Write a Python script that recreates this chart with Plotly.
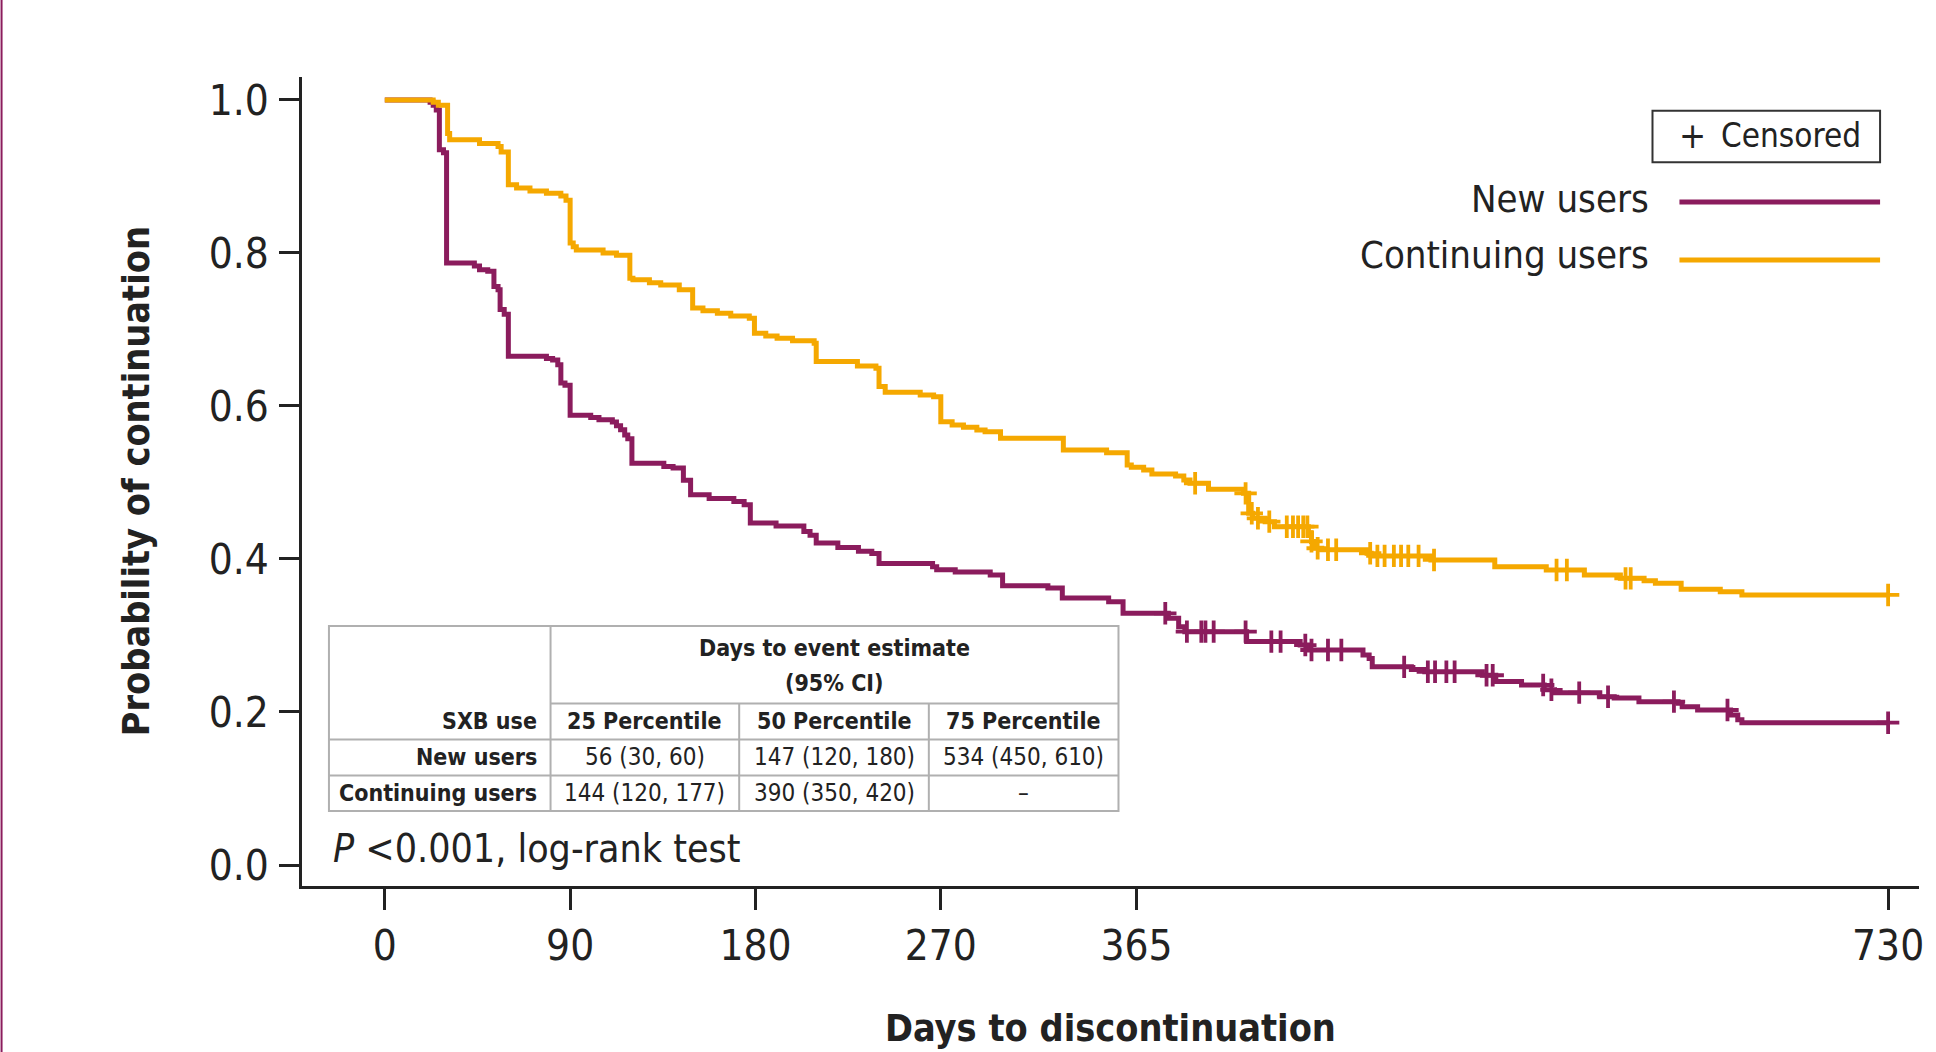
import numpy as np
import plotly.graph_objects as go

# ---------------- data ----------------
new_times = [0, 22, 23.5, 25, 26.5, 28.5, 30, 43.5, 46, 50,
             53, 55, 56, 58, 60, 78.5, 81.5, 84, 85.5, 87.5,
             90, 100, 104, 110.5, 112.5, 114.5, 116.5, 118, 120, 135.5,
             140, 145, 148.5, 157.5, 169.5, 174.5, 177.5, 190, 203.5, 206.5,
             209.5, 220, 230, 236.5, 240, 266, 268, 277, 294, 300,
             322, 329, 351.5, 358.5, 380.5, 385.5, 388.5, 418.5, 444.5, 448.5,
             475, 478, 479.5, 498.5, 505, 533, 539.5, 552, 563, 568,
             590, 597, 609, 628, 630, 637.5, 653.5, 657, 659, 730]
new_surv = [1.0, 0.997, 0.993, 0.987, 0.935, 0.931, 0.787, 0.783, 0.778, 0.776,
            0.756, 0.752, 0.726, 0.720, 0.665, 0.662, 0.660, 0.654, 0.630, 0.627,
            0.588, 0.585, 0.582, 0.579, 0.574, 0.569, 0.562, 0.557, 0.525, 0.521,
            0.519, 0.503, 0.484, 0.479, 0.475, 0.471, 0.447, 0.443, 0.436, 0.431,
            0.421, 0.415, 0.410, 0.407, 0.394, 0.390, 0.386, 0.383, 0.379, 0.365,
            0.362, 0.349, 0.344, 0.329, 0.3225, 0.3115, 0.305, 0.292, 0.2875, 0.281,
            0.2745, 0.270, 0.259, 0.2555, 0.2525, 0.248, 0.240, 0.2353, 0.229, 0.2253,
            0.220, 0.2183, 0.2135, 0.2113, 0.207, 0.2026, 0.196, 0.190, 0.186, 0.186]
new_censored = [379, 389.5, 396.5, 398.5, 402.5, 418, 430.5, 435, 447, 450,
                458, 464.5, 495, 506.5, 510, 515.5, 519.5, 535, 538, 562.5,
                566.5, 580, 594, 626, 652, 730]

cont_times = [0, 23.5, 26, 30.5, 31.5, 46, 55, 56.5, 60, 64,
              70.5, 78.5, 85.5, 88, 90, 91.5, 93, 106, 112.5, 119,
              120.5, 128.5, 134, 143, 149.5, 154.5, 161.5, 168, 177, 179.5,
              185, 190.5, 198, 208.5, 209.5, 229.5, 238.5, 240, 243, 260,
              266.5, 270, 275.5, 281, 287.5, 291.5, 299, 329.5, 350.5, 360.5,
              362.5, 368.5, 372.5, 384, 388, 391, 400, 417, 419.5, 421.5,
              427.5, 432, 448.5, 450, 451, 455, 477, 479, 508, 539,
              564, 582.5, 600, 611.5, 617, 629.5, 648.5, 659, 730]
cont_surv = [1.0, 0.997, 0.993, 0.956, 0.948, 0.943, 0.939, 0.932, 0.889, 0.885,
             0.881, 0.878, 0.8745, 0.869, 0.813, 0.808, 0.804, 0.800, 0.797, 0.767,
             0.765, 0.761, 0.758, 0.752, 0.728, 0.7246, 0.7212, 0.7176, 0.7146, 0.695,
             0.6915, 0.6885, 0.6854, 0.682, 0.658, 0.6523, 0.6493, 0.6253, 0.618, 0.6144,
             0.6122, 0.5795, 0.5752, 0.5722, 0.5686, 0.5664, 0.5578, 0.5425, 0.539, 0.5229,
             0.5198, 0.5163, 0.5111, 0.5085, 0.5033, 0.499, 0.491, 0.4858, 0.4597, 0.4532,
             0.4488, 0.4422, 0.434, 0.423, 0.414, 0.412, 0.4075, 0.404, 0.3987, 0.390,
             0.3856, 0.379, 0.3747, 0.3717, 0.3682, 0.3603, 0.3573, 0.353, 0.353]
cont_censored = [393.5, 418, 421, 424, 429.5, 438, 441, 443.5, 446, 448,
                 450, 453, 458, 462, 478.5, 482, 485.5, 490, 493.5, 497,
                 502, 509.5, 569, 574, 602.5, 605, 730]

x_ticks = [0, 90, 180, 270, 365, 730]
y_ticks = [0.0, 0.2, 0.4, 0.6, 0.8, 1.0]
y_ticktext = ["0.0", "0.2", "0.4", "0.6", "0.8", "1.0"]

series_names = ["New users", "Continuing users"]

table_header = ["25 Percentile", "50 Percentile", "75 Percentile"]
table_rows = ["New users", "Continuing users"]
table_values = [["56 (30, 60)", "147 (120, 180)", "534 (450, 610)"],
                ["144 (120, 177)", "390 (350, 420)", "\u2013"]]

PURPLE = "#8B1C5D"
ORANGE = "#F5A800"
INK = "#222222"
NARROW = "DejaVu Sans Condensed, Liberation Sans Narrow, Arial Narrow, sans-serif"

# ---------------- geometry helpers (pixel -> paper) ----------------
W, H = 1936, 1052
L, R, T, B = 302, 14, 77, 166
PW, PH = W - L - R, H - T - B


def px(X):
    return (X - L) / PW


def py(Y):
    return (H - B - Y) / PH


def step_value(times, surv, t):
    idx = np.searchsorted(np.asarray(times), t, side="right") - 1
    return surv[max(idx, 0)]


fig = go.Figure()

for name, times, surv, cens, color in [
    (series_names[0], new_times, new_surv, new_censored, PURPLE),
    (series_names[1], cont_times, cont_surv, cont_censored, ORANGE),
]:
    fig.add_trace(go.Scatter(x=times, y=surv, mode="lines", line=dict(color=color, width=5, shape="hv"),
                             name=name, showlegend=False, hoverinfo="skip"))
    fig.add_trace(go.Scatter(x=cens, y=[step_value(times, surv, t) for t in cens], mode="markers",
                             marker=dict(symbol="cross-thin", size=16, color=color,
                                         line=dict(color=color, width=3.8)),
                             showlegend=False, hoverinfo="skip"))

shapes = []
annotations = []

# legend
shapes.append(dict(type="rect", xref="paper", yref="paper", x0=px(1655), x1=px(1883), y0=py(110.7), y1=py(162.3),
                   line=dict(color="#333333", width=2)))
annotations.append(dict(text="+", x=px(1695), y=py(135), xref="paper", yref="paper", showarrow=False,
                        xanchor="center", yanchor="middle", font=dict(family=NARROW, size=36, color=INK)))
annotations.append(dict(text="Censored", x=px(1722), y=py(136), xref="paper", yref="paper", showarrow=False,
                        xanchor="left", yanchor="middle", font=dict(family=NARROW, size=33, color=INK)))
for name, color, ytxt, yline in [(series_names[0], PURPLE, 199, 202), (series_names[1], ORANGE, 255, 260)]:
    annotations.append(dict(text=name, x=px(1654), y=py(ytxt), xref="paper", yref="paper", showarrow=False,
                            xanchor="right", yanchor="middle", font=dict(family=NARROW, size=38, color=INK)))
    shapes.append(dict(type="line", xref="paper", yref="paper", x0=px(1682), x1=px(1883), y0=py(yline), y1=py(yline),
                       line=dict(color=color, width=5)))

# table
TL = "#b0b0b0"
tx = [329, 551, 740, 930, 1120]
ty = [626, 703.5, 739.5, 775.5, 811]
shapes.append(dict(type="rect", xref="paper", yref="paper", x0=px(tx[0]), x1=px(tx[4]), y0=py(ty[0]), y1=py(ty[4]),
                   line=dict(color=TL, width=2), fillcolor="white", layer="below"))
shapes.append(dict(type="line", xref="paper", yref="paper", x0=px(tx[1]), x1=px(tx[1]), y0=py(ty[0]), y1=py(ty[4]),
                   line=dict(color=TL, width=2)))
shapes.append(dict(type="line", xref="paper", yref="paper", x0=px(tx[1]), x1=px(tx[4]), y0=py(ty[1]), y1=py(ty[1]),
                   line=dict(color=TL, width=2)))
for xv in tx[2:4]:
    shapes.append(dict(type="line", xref="paper", yref="paper", x0=px(xv), x1=px(xv), y0=py(ty[1]), y1=py(ty[4]),
                       line=dict(color=TL, width=2)))
for yv in ty[2:4]:
    shapes.append(dict(type="line", xref="paper", yref="paper", x0=px(tx[0]), x1=px(tx[4]), y0=py(yv), y1=py(yv),
                       line=dict(color=TL, width=2)))


def tann(text, X, Y, anchor="center", bold=False):
    annotations.append(dict(text=("<b>%s</b>" % text) if bold else text, x=px(X), y=py(Y), xref="paper", yref="paper",
                            showarrow=False, xanchor=anchor, yanchor="middle",
                            font=dict(family=NARROW, size=23 if bold else 24, color=INK)))


cx = [(tx[i] + tx[i + 1]) / 2 for i in range(1, 4)]
tann("Days to event estimate", (tx[1] + tx[4]) / 2, 648, bold=True)
tann("(95% CI)", (tx[1] + tx[4]) / 2, 683, bold=True)
tann("SXB use", 539, 721, anchor="right", bold=True)
for i, h in enumerate(table_header):
    tann(h, cx[i], 721, bold=True)
for r, (rname, vals) in enumerate(zip(table_rows, table_values)):
    yrow = [757, 793][r]
    tann(rname, 539, yrow, anchor="right", bold=True)
    for i, v in enumerate(vals):
        tann(v, cx[i], yrow)

annotations.append(dict(text="<i>P</i> &lt;0.001, log-rank test", x=px(331), y=py(848), xref="paper", yref="paper",
                        showarrow=False, xanchor="left", yanchor="middle",
                        font=dict(family=NARROW, size=39, color=INK)))

# axis titles
annotations.append(dict(text="<b>Probability of continuation</b>", x=px(136), y=py(481), xref="paper", yref="paper",
                        showarrow=False, textangle=-90, xanchor="center", yanchor="middle",
                        font=dict(family=NARROW, size=37.5, color=INK)))
annotations.append(dict(text="<b>Days to discontinuation</b>", x=px(1112), y=py(1028), xref="paper", yref="paper",
                        showarrow=False, xanchor="center", yanchor="middle",
                        font=dict(family=NARROW, size=37.5, color=INK)))

# left page border
shapes.append(dict(type="line", xref="paper", yref="paper", x0=px(1), x1=px(1), y0=py(0), y1=py(H),
                   line=dict(color=PURPLE, width=2)))

fig.update_layout(
    width=W, height=H,
    margin=dict(l=L, r=R, t=T, b=B, pad=0),
    paper_bgcolor="white", plot_bgcolor="white",
    showlegend=False,
    shapes=shapes, annotations=annotations,
    xaxis=dict(range=[-40.2, 745], tickvals=x_ticks, ticks="outside", ticklen=21, tickwidth=2.5, tickcolor=INK,
               showline=True, linewidth=2.5, linecolor=INK, showgrid=False, zeroline=False,
               tickfont=dict(family=NARROW, size=42, color=INK), ticklabelstandoff=0),
    yaxis=dict(range=[-0.02745, 1.030], tickvals=y_ticks, ticktext=y_ticktext, ticks="outside", ticklen=20,
               tickwidth=2.5, tickcolor=INK, showline=True, linewidth=2.5, linecolor=INK, showgrid=False,
               zeroline=False, tickfont=dict(family=NARROW, size=42, color=INK), ticklabelstandoff=2),
)

fig.write_html("out.html", config={"displayModeBar": False},
               post_script="document.body.style.margin='0';document.body.style.overflow='hidden';")
